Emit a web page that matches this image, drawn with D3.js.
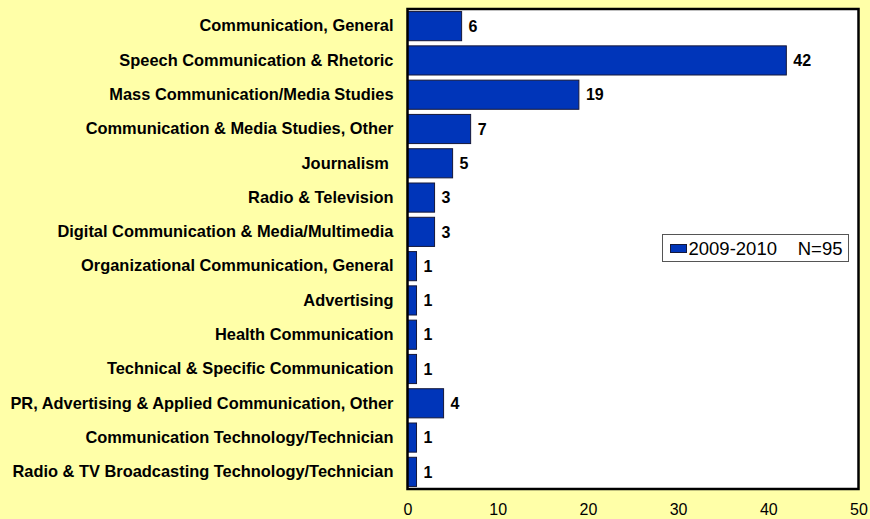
<!DOCTYPE html>
<html lang="en">
<head>
<meta charset="UTF-8">
<title>Communication majors 2009-2010</title>
<script src="https://d3js.org/d3.v7.min.js"></script>
<style>
  body { margin: 0; background: #FFFFA8; }
  svg text { font-family: Arial, "Liberation Sans", sans-serif; white-space: pre; }
</style>
</head>
<body>
<svg width="870" height="519"></svg>
<script>
    // data
    var categories = [
        "Communication, General",
        "Speech Communication & Rhetoric",
        "Mass Communication/Media Studies",
        "Communication & Media Studies, Other",
        "Journalism ",
        "Radio & Television",
        "Digital Communication & Media/Multimedia",
        "Organizational Communication, General",
        "Advertising",
        "Health Communication",
        "Technical & Specific Communication",
        "PR, Advertising & Applied Communication, Other",
        "Communication Technology/Technician",
        "Radio & TV Broadcasting Technology/Technician"
    ];
    var counts = [6, 42, 19, 7, 5, 3, 3, 1, 1, 1, 1, 4, 1, 1];
    var xTicks = [0, 10, 20, 30, 40, 50];
    var seriesName = "2009-2010";
    var seriesNote = "N=95";

    var data = categories.map(function (c, i) { return {name: c, value: counts[i]}; });

    var plot = {left: 407.5, right: 858.5, top: 9, bottom: 489};

    var svg = d3.select("svg");

    var x = d3.scaleLinear()
        .domain([0, 50])
        .range([plot.left, plot.right]);

    var y = d3.scaleBand()
        .domain(categories)
        .range([plot.top, plot.bottom])
        .paddingInner(0.15)
        .paddingOuter(0.075);

    // plot area
    svg.append("rect")
        .attr("x", plot.left)
        .attr("y", plot.top)
        .attr("width", plot.right - plot.left)
        .attr("height", plot.bottom - plot.top)
        .attr("fill", "#fff");

    // bars
    svg.append("g")
        .selectAll("rect")
        .data(data)
        .enter().append("rect")
        .attr("x", x(0))
        .attr("y", function (d) { return y(d.name); })
        .attr("width", function (d) { return x(d.value) - x(0); })
        .attr("height", y.bandwidth())
        .attr("fill", "#0035B9")
        .attr("stroke", "#15183a")
        .attr("stroke-width", 1);

    // value labels
    svg.append("g")
        .selectAll("text")
        .data(data)
        .enter().append("text")
        .attr("x", function (d) { return x(d.value) + 7; })
        .attr("y", function (d) { return y(d.name) + y.bandwidth() / 2; })
        .attr("dy", "0.36em")
        .attr("font-size", "16px")
        .attr("font-weight", "bold")
        .attr("fill", "#000")
        .text(function (d) { return d.value; });

    // plot border on top
    svg.append("rect")
        .attr("x", plot.left)
        .attr("y", plot.top)
        .attr("width", plot.right - plot.left)
        .attr("height", plot.bottom - plot.top)
        .attr("fill", "none")
        .attr("stroke", "#000")
        .attr("stroke-width", 2.5);

    // category axis
    var yAxis = svg.append("g")
        .attr("transform", "translate(" + (plot.left - 14) + ",0)")
        .call(d3.axisLeft(y).tickSize(0).tickPadding(0));
    yAxis.select(".domain").remove();
    yAxis.selectAll("text")
        .attr("font-size", "16.4px")
        .attr("font-weight", "bold")
        .attr("font-family", "Arial, 'Liberation Sans', sans-serif")
        .attr("fill", "#000");

    // value axis
    var xAxis = svg.append("g")
        .attr("transform", "translate(0," + plot.bottom + ")")
        .call(d3.axisBottom(x).tickValues(xTicks).tickSize(0).tickPadding(15));
    xAxis.select(".domain").remove();
    xAxis.selectAll("text")
        .attr("font-size", "16px")
        .attr("font-family", "Arial, 'Liberation Sans', sans-serif")
        .attr("fill", "#000");

    // legend
    var legend = svg.append("g").attr("transform", "translate(662.5,234.5)");
    legend.append("rect")
        .attr("width", 186)
        .attr("height", 27)
        .attr("fill", "#fff")
        .attr("stroke", "#555")
        .attr("stroke-width", 1);
    legend.append("rect")
        .attr("x", 8)
        .attr("y", 10)
        .attr("width", 16)
        .attr("height", 8)
        .attr("fill", "#0035B9")
        .attr("stroke", "#15183a");
    legend.append("text")
        .attr("x", 26)
        .attr("y", 14)
        .attr("dy", "0.36em")
        .attr("font-size", "18.5px")
        .attr("fill", "#000")
        .text(seriesName);
    legend.append("text")
        .attr("x", 180)
        .attr("y", 14)
        .attr("dy", "0.36em")
        .attr("text-anchor", "end")
        .attr("font-size", "18.5px")
        .attr("fill", "#000")
        .text(seriesNote);
</script>
</body>
</html>
